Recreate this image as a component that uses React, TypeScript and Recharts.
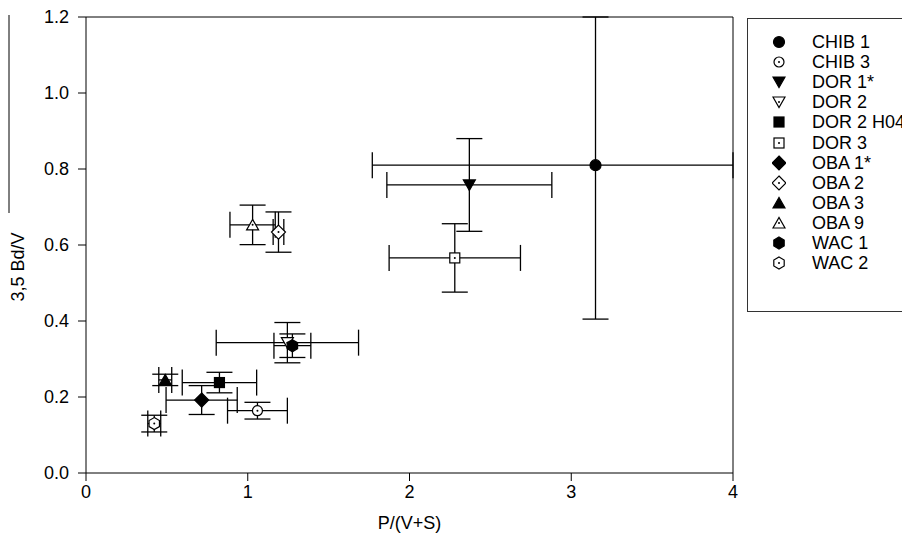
import React from "react";
import {
  ScatterChart,
  Scatter,
  XAxis,
  YAxis,
  ErrorBar,
  ReferenceLine,
} from "recharts";

const seriesNames = [
  "CHIB 1",
  "CHIB 3",
  "DOR 1*",
  "DOR 2",
  "DOR 2 H04",
  "DOR 3",
  "OBA 1*",
  "OBA 2",
  "OBA 3",
  "OBA 9",
  "WAC 1",
  "WAC 2",
];
const xValues = [3.15, 1.06, 2.37, 1.245, 0.825, 2.28, 0.715, 1.19, 0.49, 1.03, 1.276, 0.422];
const yValues = [0.81, 0.164, 0.758, 0.343, 0.238, 0.566, 0.192, 0.634, 0.245, 0.653, 0.335, 0.13];
const xErrors = [1.38, 0.185, 0.51, 0.44, 0.23, 0.406, 0.22, 0.033, 0.04, 0.14, 0.114, 0.04];
const yErrors = [0.405, 0.022, 0.122, 0.053, 0.027, 0.09, 0.038, 0.053, 0.015, 0.052, 0.031, 0.022];
const markerKinds = [
  "circle",
  "circle",
  "down",
  "down",
  "square",
  "square",
  "diamond",
  "diamond",
  "up",
  "up",
  "hexagon",
  "hexagon",
];
const markerFilled = [true, false, true, false, true, false, true, false, true, false, true, false];

const xTicks = [0, 1, 2, 3, 4];
const yTicks = [0, 0.2, 0.4, 0.6, 0.8, 1.0, 1.2];
const xDomain = [0, 4];
const yDomain = [0, 1.2];

const FONT = "'Liberation Sans', Arial, sans-serif";
const FS = 18;

// error bars are cut at the frame, like the original plot
const clipErr = (v: number, e: number, d: number[]) => [Math.min(e, v - d[0]), Math.min(e, d[1] - v)];

function Marker({ cx, cy, kind, filled }: { cx: number; cy: number; kind: string; filled: boolean }) {
  const fill = filled ? "#000" : "#fff";
  const common = { fill, stroke: "#000", strokeWidth: 1.2 };
  let el: React.ReactNode = null;
  if (kind === "circle") {
    el = <circle cx={cx} cy={cy} r={filled ? 5.5 : 5} {...common} />;
  } else if (kind === "down") {
    el = <polygon points={`${cx - 6},${cy - 5} ${cx + 6},${cy - 5} ${cx},${cy + 5.5}`} {...common} />;
  } else if (kind === "up") {
    el = <polygon points={`${cx - 6},${cy + 5} ${cx + 6},${cy + 5} ${cx},${cy - 5.5}`} {...common} />;
  } else if (kind === "square") {
    el = <rect x={cx - 5} y={cy - 5} width={10} height={10} {...common} />;
  } else if (kind === "diamond") {
    el = <polygon points={`${cx},${cy - 7} ${cx + 7},${cy} ${cx},${cy + 7} ${cx - 7},${cy}`} {...common} />;
  } else if (kind === "hexagon") {
    const pts = [0, 1, 2, 3, 4, 5]
      .map((i) => {
        const a = (Math.PI / 3) * i - Math.PI / 2;
        return `${cx + 6 * Math.cos(a)},${cy + 6 * Math.sin(a)}`;
      })
      .join(" ");
    el = <polygon points={pts} {...common} />;
  }
  return (
    <g>
      {el}
      {!filled && <circle cx={cx} cy={cy} r={1} fill="#000" />}
    </g>
  );
}

const yTitle = () => (
  <g>
    <line x1={9} y1={15} x2={9} y2={213} stroke="#000" strokeWidth={1} />
    <text
      x={24}
      y={267}
      transform="rotate(-90 24 267)"
      textAnchor="middle"
      fontFamily={FONT}
      fontSize={FS}
      fill="#000"
    >
      3,5 Bd/V
    </text>
  </g>
);

export default function App() {
  const series = seriesNames.map((name, i) => ({
    name,
    kind: markerKinds[i],
    filled: markerFilled[i],
    data: [
      {
        x: xValues[i],
        y: yValues[i],
        xe: clipErr(xValues[i], xErrors[i], xDomain),
        ye: clipErr(yValues[i], yErrors[i], yDomain),
      },
    ],
  }));

  const tickStyle = { fontFamily: FONT, fontSize: FS, fill: "#000" };

  return (
    <div
      style={{
        position: "absolute",
        left: 0,
        top: 0,
        width: 902,
        height: 534,
        overflow: "hidden",
        background: "#fff",
      }}
    >
      <ScatterChart width={902} height={534} margin={{ top: 17, right: 169, bottom: 0, left: 0 }}>
        <XAxis
          type="number"
          dataKey="x"
          domain={xDomain}
          ticks={xTicks}
          allowDataOverflow
          height={61}
          tickSize={8}
          tickMargin={4}
          tick={tickStyle}
          stroke="#000"
          label={{
            value: "P/(V+S)",
            position: "insideBottom",
            offset: 5,
            style: { fontFamily: FONT, fontSize: FS, fill: "#000" },
          }}
        />
        <YAxis
          type="number"
          dataKey="y"
          domain={yDomain}
          ticks={yTicks}
          allowDataOverflow
          width={86}
          tickSize={8}
          tickMargin={9}
          tick={tickStyle}
          tickFormatter={(v: number) => v.toFixed(1)}
          stroke="#000"
          label={{ content: yTitle }}
        />
        <ReferenceLine y={1.2} stroke="#000" />
        <ReferenceLine x={4} stroke="#000" />
        {series.map((s) => (
          <Scatter
            key={s.name}
            name={s.name}
            data={s.data}
            isAnimationActive={false}
            shape={(p: any) => <Marker cx={p.cx} cy={p.cy} kind={s.kind} filled={s.filled} />}
          >
            <ErrorBar dataKey="xe" direction="x" width={13} stroke="#000" strokeWidth={1.3} />
            <ErrorBar dataKey="ye" direction="y" width={13} stroke="#000" strokeWidth={1.3} />
          </Scatter>
        ))}
      </ScatterChart>
      <div
        style={{
          position: "absolute",
          left: 747,
          top: 18,
          width: 220,
          height: 294,
          border: "1px solid #333",
          boxSizing: "border-box",
          paddingTop: 13,
          fontFamily: FONT,
          fontSize: FS,
          color: "#000",
        }}
      >
        {series.map((s) => (
          <div key={s.name} style={{ height: 20.1, display: "flex", alignItems: "center" }}>
            <svg width={14} height={16} style={{ marginLeft: 24, marginRight: 26 }}>
              <Marker cx={7} cy={8} kind={s.kind} filled={s.filled} />
            </svg>
            <span style={{ whiteSpace: "nowrap", lineHeight: "20px" }}>{s.name}</span>
          </div>
        ))}
      </div>
    </div>
  );
}
